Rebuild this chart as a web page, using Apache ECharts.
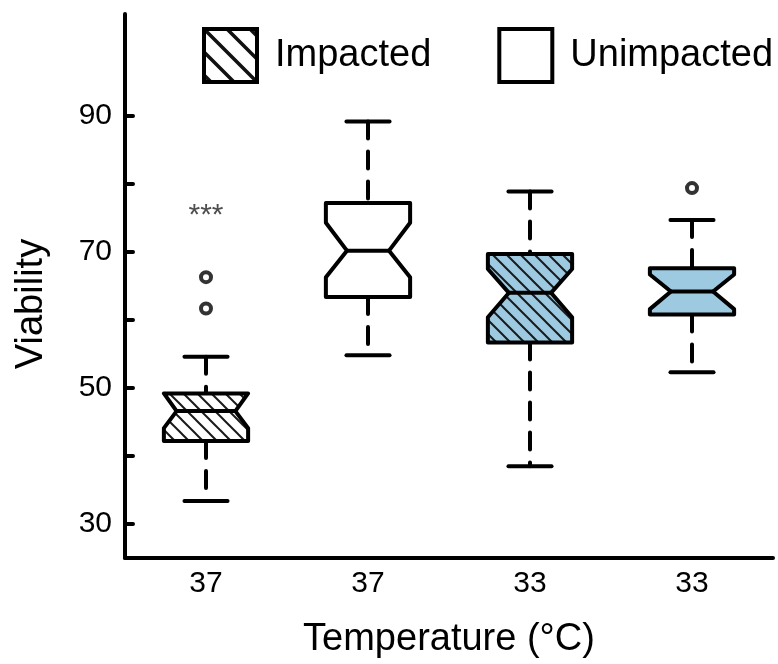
<!DOCTYPE html>
<html>
<head>
<meta charset="utf-8">
<script src="https://cdn.jsdelivr.net/npm/echarts@6/dist/echarts.min.js"></script>
<style>
html,body{margin:0;padding:0;background:#fff;}
#chart{width:778px;height:664px;}
</style>
</head>
<body>
<div id="chart"></div>
<script>
// ---- data ----
const categories = ['37', '37', '33', '33'];
const groups = ['Impacted', 'Unimpacted', 'Impacted', 'Unimpacted'];
const lowerWhisker = [33.4, 54.8, 38.5, 52.3];
const q1 = [42.2, 63.4, 56.7, 60.8];
const notchLow = [44.1, 66.3, 60.4, 61.6];
const median = [46.6, 70.2, 64.0, 64.2];
const notchHigh = [50.9, 74.3, 67.5, 66.7];
const q3 = [49.2, 77.2, 69.7, 67.6];
const upperWhisker = [54.6, 89.2, 78.9, 74.7];
const outliers = [[0, 66.3], [0, 61.7], [3, 79.4]];
const annotations = [[0, 75.3, '***']];
const yTickValues = [30, 40, 50, 60, 70, 80, 90];
const yLabelValues = [30, 50, 70, 90];
const legendNames = ['Impacted', 'Unimpacted'];

// ---- styles ----
const FONT = "'Liberation Sans', Arial, Helvetica, sans-serif";
const BLUE = '#9ecae1';

function makeHatch(bg, size, lw, color) {
  const c = document.createElement('canvas');
  c.width = size; c.height = size;
  const ctx = c.getContext('2d');
  ctx.fillStyle = bg;
  ctx.fillRect(0, 0, size, size);
  ctx.strokeStyle = color;
  ctx.lineWidth = lw;
  ctx.lineCap = 'square';
  for (const k of [-size, 0, size]) {
    ctx.beginPath();
    ctx.moveTo(k - 2, -2);
    ctx.lineTo(k + size + 2, size + 2);
    ctx.stroke();
  }
  return { image: c, repeat: 'repeat' };
}
const hatchWhite = makeHatch('#ffffff', 14, 2, '#1a1a1a');
const hatchBlue = makeHatch(BLUE, 14, 2, '#1a1a1a');
const hatchLegend = makeHatch('#ffffff', 23, 3.5, '#111111');

function seriesData(groupName) {
  const out = [];
  for (let i = 0; i < categories.length; i++) {
    if (groups[i] !== groupName) continue;
    out.push([i, lowerWhisker[i], q1[i], notchLow[i], median[i], notchHigh[i], q3[i], upperWhisker[i]]);
  }
  return out;
}

function makeRender(hatched) {
  return function (params, api) {
    const idx = api.value(0);
    const lo = api.value(1), Q1 = api.value(2), nlo = api.value(3), med = api.value(4),
          nhi = api.value(5), Q3 = api.value(6), hi = api.value(7);
    const band = api.size([1, 0])[0];
    const hw = band * 0.26, cw = band * 0.133;
    const cx = api.coord([idx, med])[0];
    const y = v => api.coord([idx, v])[1];
    const blue = categories[idx] === '33';
    const fill = hatched ? (blue ? hatchBlue : hatchWhite) : (blue ? BLUE : '#ffffff');
    const depth = hw * 0.5 * Math.min(1, (Q3 - med) / (nhi - med), (med - Q1) / (med - nlo));
    const nh = Math.min(nhi, Q3), nl = Math.max(nlo, Q1);
    const L = cx - hw, R = cx + hw;
    const pts = [[L, y(Q3)], [R, y(Q3)], [R, y(nh)], [R - depth, y(med)], [R, y(nl)], [R, y(Q1)],
                 [L, y(Q1)], [L, y(nl)], [L + depth, y(med)], [L, y(nh)]];
    const dash = { stroke: '#000', lineWidth: 4, lineDash: [17, 13], lineCap: 'round', fill: null };
    const solid = { stroke: '#000', lineWidth: 4, lineCap: 'round', fill: null };
    return {
      type: 'group',
      children: [
        { type: 'line', shape: { x1: cx, y1: y(hi), x2: cx, y2: y(Q3) }, style: dash },
        { type: 'line', shape: { x1: cx, y1: y(Q1), x2: cx, y2: y(lo) }, style: dash },
        { type: 'line', shape: { x1: cx - cw, y1: y(hi), x2: cx + cw, y2: y(hi) }, style: solid },
        { type: 'line', shape: { x1: cx - cw, y1: y(lo), x2: cx + cw, y2: y(lo) }, style: solid },
        { type: 'polygon', shape: { points: pts },
          style: { fill: fill, stroke: '#000', lineWidth: 4, lineJoin: 'round' } },
        { type: 'line', shape: { x1: L + depth, y1: y(med), x2: R - depth, y2: y(med) }, style: solid }
      ]
    };
  };
}

const chart = echarts.init(document.getElementById('chart'), null, { renderer: 'canvas' });
chart.setOption({
  animation: false,
  backgroundColor: '#ffffff',
  grid: { left: 125, right: 5, top: 14, bottom: 103 },
  legend: {
    data: [
      { name: legendNames[0], icon: 'rect', itemStyle: { color: hatchLegend, borderColor: '#000', borderWidth: 4 } },
      { name: legendNames[1], icon: 'rect', itemStyle: { color: '#ffffff', borderColor: '#000', borderWidth: 4 } }
    ],
    left: 202, top: 27, padding: 0,
    itemWidth: 53, itemHeight: 53, itemGap: 66,
    selectedMode: false,
    textStyle: { fontSize: 38, color: '#000', fontFamily: FONT, padding: [0, 0, 0, 13] }
  },
  xAxis: {
    type: 'category',
    data: categories,
    boundaryGap: true,
    name: 'Temperature (°C)',
    nameLocation: 'middle',
    nameGap: 63,
    nameTextStyle: { fontSize: 38, color: '#000', fontFamily: FONT },
    axisLine: { lineStyle: { color: '#000', width: 4, cap: 'round' } },
    axisTick: { inside: true, alignWithLabel: true, length: 8, lineStyle: { color: '#000', width: 4, cap: 'round' } },
    axisLabel: { fontSize: 30, color: '#000', fontFamily: FONT, margin: 11 },
    splitLine: { show: false }
  },
  yAxis: {
    type: 'value',
    min: 25, max: 105,
    name: 'Viability',
    nameLocation: 'middle',
    nameGap: 74,
    nameTextStyle: { fontSize: 38, color: '#000', fontFamily: FONT, padding: [0, 36, 0, 0] },
    axisLine: { show: true, lineStyle: { color: '#000', width: 4, cap: 'round' } },
    axisTick: { show: true, inside: true, length: 8, customValues: yTickValues,
                lineStyle: { color: '#000', width: 4, cap: 'round' } },
    axisLabel: { fontSize: 30, color: '#000', fontFamily: FONT, margin: 13, customValues: yLabelValues },
    splitLine: { show: false }
  },
  series: [
    { name: legendNames[0], type: 'custom', renderItem: makeRender(true), data: seriesData('Impacted'),
      encode: { x: 0, y: [1, 2, 3, 4, 5, 6, 7] }, z: 2 },
    { name: legendNames[1], type: 'custom', renderItem: makeRender(false), data: seriesData('Unimpacted'),
      encode: { x: 0, y: [1, 2, 3, 4, 5, 6, 7] }, z: 2 },
    { name: 'outliers', type: 'scatter', data: outliers, symbol: 'circle', symbolSize: 10, z: 3,
      itemStyle: { color: '#fff', borderColor: '#000', borderWidth: 4 } },
    { name: 'annotations', type: 'scatter', data: annotations, symbolSize: 0, z: 3,
      label: { show: true, position: 'inside', formatter: p => p.value[2],
               fontSize: 30, color: '#222', fontFamily: FONT } }
  ]
});
</script>
</body>
</html>
